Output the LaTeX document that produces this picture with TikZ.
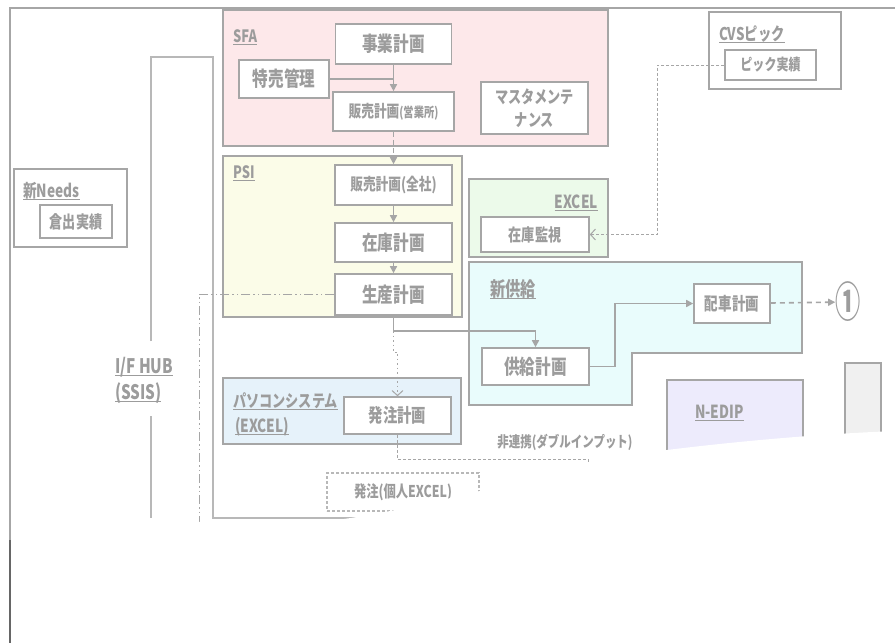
\documentclass[tikz,border=0pt]{standalone}
\usepackage{fontspec}
\usetikzlibrary{arrows.meta}
\newfontfamily\jp[FakeStretch=0.76]{Noto Sans CJK JP}
\newfontfamily\jpn[FakeStretch=0.6]{Noto Sans CJK JP}
\newcommand{\myfs}[1]{\fontsize{#1}{#1}\selectfont}
\newcommand{\ul}[1]{\vtop{\hbox{\raisebox{0pt}[\height][0pt]{#1}}\kern2pt\hrule height 1.3pt}}
\definecolor{tc}{HTML}{9C9C9C}
\definecolor{lc}{HTML}{A6A6A6}
\definecolor{ll}{HTML}{B8B8B8}
\definecolor{sfaC}{HTML}{FDE8EA}
\definecolor{psiC}{HTML}{FBFCE8}
\definecolor{xlC}{HTML}{ECFAEA}
\definecolor{skC}{HTML}{E9FCFC}
\definecolor{pcC}{HTML}{E6F2FA}
\definecolor{edC}{HTML}{EDEBFC}
\definecolor{gyC}{HTML}{F0F0F0}
\begin{document}
\begin{tikzpicture}[x=1pt,y=-1pt,
  bx/.style={draw=lc, fill=white, line width=1.6, inner sep=0, text=tc, font=\jp\bfseries\myfs{20.5}},
  grp/.style={draw=lc, line width=1.6},
  lbl/.style={text=tc, inner sep=0, anchor=base west, font=\jp\bfseries\myfs{18}},
  conn/.style={draw=lc, line width=1.6},
  thinconn/.style={draw=lc, line width=1},
  tip/.style={-{Triangle[length=7,width=7]}},
  vtip/.style={-{Straight Barb[length=5,width=11]}},
  dashdd/.style={dash pattern=on 9 off 3 on 1.5 off 3 on 1.5 off 3},
]
\useasboundingbox (0,0) rectangle (895,643);
\fill[white] (0,0) rectangle (895,643);

% outer frame
\draw[draw=lc, line width=2] (10,545) -- (10,8) -- (895,8);

% I/F HUB frame
\draw[draw=ll, line width=1.6] (151,341) -- (151,57) -- (213,57) -- (213,518) -- (600,518);
\draw[draw=ll, line width=1.6] (151,416) -- (151,518);

% group containers
\draw[grp, fill=sfaC] (223,10) rectangle (608,146);
\draw[grp, fill=psiC] (223,156) rectangle (462,317);
\draw[grp, fill=xlC] (469,179) rectangle (608,257);
\draw[grp] (709,12) rectangle (841,89);
\draw[grp] (14,169) rectangle (127,247);
\draw[grp, fill=skC] (469,262) -- (802,262) -- (802,353) -- (632,353) -- (632,405) -- (469,405) -- cycle;
\draw[grp, fill=pcC] (223,378) rectangle (461,444);
\draw[grp, fill=edC] (667,380) rectangle (803,480);
\draw[grp, fill=gyC] (845,363) rectangle (881,480);

% labels
\node[lbl, font=\jp\bfseries\myfs{17}] (sfaL) at (233,42) {\ul{SFA}};
\node[lbl, font=\jp\bfseries\myfs{17}] (psiL) at (233,178) {\ul{PSI}};
\node[lbl, font=\jp\bfseries\myfs{17.5}] (cvsL) at (719,40) {\ul{CVSピック}};
\node[lbl, anchor=base east] (excelL) at (598,208) {\ul{EXCEL}};
\node[lbl] (needsL) at (23,197) {\ul{新Needs}};
\node[lbl, font=\jp\bfseries\myfs{20}] (skL) at (490,296) {\ul{新供給}};
\node[lbl] (nedipL) at (695,418) {\ul{N-EDIP}};
\node[lbl, font=\jp\bfseries\myfs{17.3}] (pcL1) at (233,407) {\ul{パソコンシステム}};
\node[lbl] (pcL2) at (235,432) {\ul{(EXCEL)}};
\node[lbl, font=\jp\bfseries\myfs{20}] (hubL1) at (115,373) {\ul{I/F HUB}};
\node[lbl, font=\jp\bfseries\myfs{20}] (hubL2) at (115,399) {\ul{(SSIS)}};

% boxes
\node[bx, minimum width=116, minimum height=40] (jigyo) at (393.5,44) {事業計画};
\node[bx, minimum width=90, minimum height=38] (tokubai) at (284,79) {特売管理};
\node[bx, minimum width=121, minimum height=39, font=\jp\bfseries\myfs{16.7}] (hanbai1) at (393.5,111.5) {販売計画{\myfs{13.5}(営業所)}};
\node[bx, minimum width=107, minimum height=52, align=center, font=\jp\bfseries\fontsize{17.3}{23}\selectfont] (master) at (534.5,108) {マスタメンテ\\ナンス};
\node[bx, minimum width=117, minimum height=40, font=\jp\bfseries\myfs{16.7}] (hanbai2) at (393.5,185) {販売計画(全社)};
\node[bx, minimum width=117, minimum height=39] (zaiko) at (393.5,242.5) {在庫計画};
\node[bx, minimum width=117, minimum height=41] (seisan) at (393.5,294.5) {生産計画};
\node[bx, minimum width=108, minimum height=35, font=\jp\bfseries\myfs{17.3}] (kanshi) at (535,234.5) {在庫監視};
\node[bx, minimum width=91, minimum height=30, font=\jp\bfseries\myfs{15.8}] (pick) at (770.5,65) {ピック実績};
\node[bx, minimum width=72, minimum height=33, font=\jp\bfseries\myfs{17.3}] (kurade) at (76,221.5) {倉出実績};
\node[bx, minimum width=107, minimum height=37] (kyokyu) at (535.5,366.5) {供給計画};
\node[bx, minimum width=76, minimum height=39, font=\jp\bfseries\myfs{17.8}] (haisha) at (732,303.5) {配車計画};
\node[bx, minimum width=107, minimum height=37, font=\jp\bfseries\myfs{18.9}] (hatchu) at (397.5,415.5) {発注計画};
\node[bx, draw=ll, line width=1.2, dash pattern=on 3 off 2, minimum width=152, minimum height=38, font=\jp\bfseries\myfs{16.2}] (kojin) at (403,492) {発注(個人EXCEL)};
\node[text=tc, inner sep=0, font=\jp\bfseries\myfs{15.1}] (hiren) at (565,442) {非連携(ダブルインプット)};
\node[text=tc, inner sep=0, font=\jpn\bfseries\myfs{42}] (one) at (848,302) {①};

% connectors
\coordinate (j1) at (393.5,331);
\coordinate (j2) at (393.5,352);
\coordinate (k1) at (615,366.5);
\coordinate (p1) at (657,65);
\coordinate (d1) at (199,522);
\coordinate (n1) at (588,459);
\coordinate (n2) at (588,464);

\draw[conn, tip] (jigyo) -- (hanbai1);
\draw[conn] (tokubai.east) -- (tokubai.east -| hanbai1.north);
\draw[conn, tip, dash pattern=on 5 off 3] (hanbai1) -- (hanbai2);
\draw[conn, tip] (hanbai2) -- (zaiko);
\draw[conn, tip] (zaiko) -- (seisan);
\draw[conn, tip] (seisan.south) -- (j1) -| (kyokyu.north);
\draw[thinconn, vtip, dash pattern=on 1.5 off 3] (j1) -- (j2) -| (hatchu.north);
\draw[conn, tip] (kyokyu.east) -- (k1) |- (haisha.west);
\draw[conn, tip, dash pattern=on 5 off 4] (haisha) -- (one);
\draw[thinconn, vtip, dash pattern=on 3 off 2] (pick.west) -- (p1) |- (kanshi.east);
\draw[thinconn, dashdd] (seisan.west) -| (d1);
\draw[thinconn, dash pattern=on 3 off 2] (hatchu.south) |- (n1) -- (n2);

% torn-away lower part
\fill[white] (11.2,523) -- (330,521) .. controls (450,505) and (560,465) .. (667,450) .. controls (740,441) and (820,434) .. (895,431) -- (895,643) -- (11.2,643) -- cycle;
\draw[draw=black!60, line width=2] (10,540) -- (10,643);
\end{tikzpicture}
\end{document}
